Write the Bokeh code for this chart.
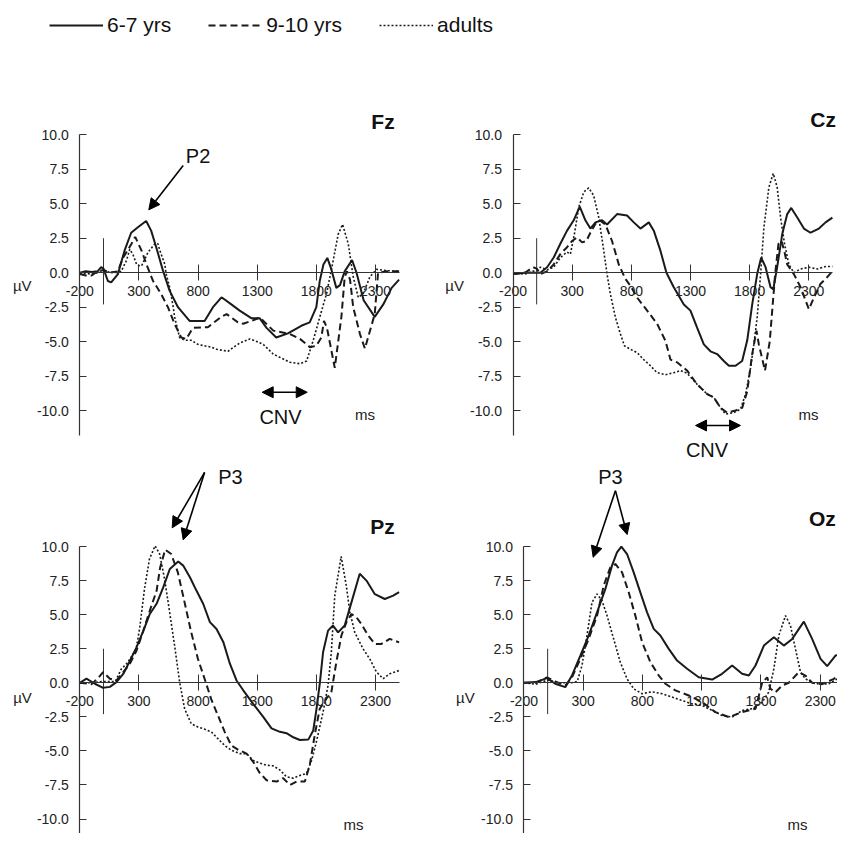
from bokeh.plotting import figure
from bokeh.models import (LinearAxis, FixedTicker, NumeralTickFormatter, Range1d,
                          Label, Arrow, NormalHead, Legend, LegendItem)
from bokeh.layouts import column, row
from bokeh.embed import file_html
from bokeh.resources import INLINE

FONT = "Liberation Sans"
INK = "#1a1a1a"

GROUPS = ["6-7 yrs", "9-10 yrs", "adults"]
X_TICKS = [-200, 300, 800, 1300, 1800, 2300]
Y_TICKS = [-10.0, -7.5, -5.0, -2.5, 0.0, 2.5, 5.0, 7.5, 10.0]
STIM_MARK = ([0], [2.5], [-2.3])   # stimulus onset marker (ms, top uV, bottom uV)

# ---------------- Fz ----------------
FZ_67_T = [-200, -150, -100, -50, -20, 0, 37, 65, 122, 178, 234, 291, 361, 403, 446, 503, 559, 630, 728, 855,
           926, 996, 1010, 1081, 1152, 1250, 1320, 1379, 1461, 1560, 1673, 1744, 1800, 1829, 1860, 1893, 1925,
           1969, 2000, 2040, 2102, 2140, 2200, 2294, 2366, 2437, 2500]
FZ_67_V = [0.0, 0.1, 0.05, 0.1, 0.4, 0.3, -0.6, -0.7, -0.1, 1.6, 2.9, 3.3, 3.75, 3.05, 1.85, 0.15, -1.3, -2.5, -3.5,
           -3.5, -2.5, -1.8, -1.85, -2.3, -2.75, -3.3, -3.3, -4.0, -4.7, -4.4, -3.85, -3.6, -2.5, -0.6, 0.6, 1.07,
           0.3, -1.1, -0.9, 0.1, 0.92, 0.0, -2.0, -3.2, -2.3, -1.1, -0.5]
FZ_910_T = [-200, -150, -100, -50, 0, 50, 120, 167, 237, 268, 322, 364, 418, 488, 545, 601, 657, 700, 756, 883,
            996, 1041, 1137, 1182, 1250, 1323, 1436, 1577, 1661, 1746, 1800, 1842, 1865, 1890, 1956, 2012, 2040,
            2060, 2085, 2112, 2169, 2211, 2294, 2322, 2400, 2500]
FZ_910_V = [-0.1, -0.2, -0.2, 0.1, 0.2, 0.0, 0.1, 1.1, 2.1, 2.6, 1.6, 0.6, -0.58, -1.55, -2.5, -3.7, -4.7, -4.8,
            -4.0, -3.95, -3.2, -3.0, -3.6, -3.7, -3.5, -3.25, -4.2, -4.45, -4.8, -5.4, -5.3, -4.7, -3.5, -4.0, -6.9,
            -3.2, -0.3, 0.1, -0.5, -2.5, -4.45, -5.5, -3.0, 0.0, 0.1, 0.1]
FZ_AD_T = [-200, -100, -50, 0, 100, 150, 195, 222, 250, 280, 305, 322, 378, 435, 460, 477, 519, 530, 561, 590, 601,
           644, 686, 742, 799, 911, 956, 1053, 1100, 1154, 1238, 1300, 1351, 1436, 1577, 1661, 1718, 1774, 1830,
           1887, 1943, 1985, 2022, 2070, 2112, 2155, 2197, 2253, 2310, 2394, 2500]
FZ_AD_V = [0.0, -0.1, 0.0, 0.1, 0.0, 0.1, 0.9, 1.7, 1.3, 0.6, 0.5, 0.5, 1.5, 2.1, 2.1, 1.6, 0.6, -0.1, -1.1, -2.5,
           -3.2, -4.7, -4.9, -4.9, -5.2, -5.4, -5.55, -5.7, -5.4, -5.1, -4.8, -5.0, -5.2, -5.9, -6.5, -6.6, -6.4,
           -4.9, -3.2, -1.5, 0.9, 2.8, 3.5, 2.1, -0.3, -1.8, -1.5, -0.3, 0.25, 0.15, 0.1]

# ---------------- Cz ----------------
CZ_67_T = [-200, -100, 0, 31, 88, 144, 200, 257, 313, 364, 412, 454, 497, 553, 595, 680, 764, 821, 877, 948, 990,
           1046, 1097, 1159, 1244, 1300, 1357, 1413, 1469, 1526, 1582, 1625, 1681, 1737, 1780, 1822, 1864, 1898,
           1935, 1977, 2000, 2033, 2076, 2118, 2152, 2203, 2259, 2315, 2386, 2442, 2500]
CZ_67_V = [-0.1, 0.0, 0.0, 0.0, 0.4, 1.1, 2.1, 3.05, 3.8, 4.8, 3.8, 3.2, 3.65, 3.8, 3.5, 4.25, 4.15, 3.65, 3.2,
           3.65, 3.05, 1.6, 0.0, -1.05, -2.3, -2.75, -4.0, -5.2, -5.7, -5.9, -6.4, -6.75, -6.75, -6.4, -4.9, -2.3,
           -0.1, 1.1, 0.4, -1.05, -1.2, 0.4, 2.8, 4.25, 4.7, 4.0, 3.2, 2.9, 3.2, 3.65, 4.0]
CZ_910_T = [-200, -100, -30, 0, 31, 88, 144, 200, 257, 299, 341, 384, 420, 454, 497, 533, 581, 637, 694, 750, 793,
            849, 934, 1018, 1089, 1131, 1187, 1272, 1357, 1441, 1498, 1554, 1610, 1681, 1737, 1780, 1822, 1858,
            1878, 1930, 1970, 2016, 2044, 2070, 2095, 2118, 2174, 2231, 2301, 2344, 2400, 2442, 2500]
CZ_910_V = [-0.1, 0.0, 0.4, 0.3, -0.1, 0.1, 0.6, 1.35, 1.85, 2.3, 2.55, 2.2, 2.3, 2.9, 3.55, 3.8, 3.5, 2.3, 0.6,
            -0.45, -0.95, -1.8, -2.75, -3.7, -4.95, -6.3, -6.5, -7.1, -8.1, -8.8, -9.05, -9.8, -10.15, -10.0, -9.8,
            -8.6, -5.9, -4.2, -5.2, -7.1, -5.0, -0.1, 2.1, 2.3, 1.5, 0.6, -0.1, -1.05, -2.65, -1.8, -0.8, -0.45,
            0.1]
CZ_AD_T = [-200, -100, 0, 31, 88, 144, 200, 257, 285, 319, 356, 398, 440, 482, 525, 567, 595, 623, 666, 708, 742,
           793, 849, 905, 962, 1018, 1089, 1159, 1216, 1272, 1357, 1441, 1498, 1554, 1596, 1667, 1723, 1766, 1808,
           1836, 1864, 1893, 1921, 1963, 2000, 2033, 2062, 2095, 2132, 2174, 2231, 2301, 2372, 2442, 2500]
CZ_AD_V = [0.0, -0.1, 0.2, 0.4, 0.2, 0.4, 1.1, 1.5, 1.35, 2.8, 4.75, 5.85, 6.15, 5.6, 4.0, 1.6, -0.1, -1.55,
           -3.25, -4.45, -5.3, -5.55, -5.8, -6.3, -6.75, -7.25, -7.4, -7.25, -7.1, -7.3, -8.1, -8.8, -9.05, -9.8,
           -10.25, -10.15, -9.9, -8.8, -6.9, -5.2, -3.25, -0.1, 3.3, 6.2, 7.2, 6.2, 4.0, 2.1, 0.6, 0.0, 0.27, 0.4,
           0.27, 0.45, 0.45]

# ---------------- Pz ----------------
PZ_67_T = [-200, -144, -73, -3, 54, 110, 167, 223, 279, 336, 392, 449, 505, 561, 632, 674, 731, 787, 843, 900, 956,
           1013, 1069, 1125, 1182, 1266, 1351, 1421, 1492, 1548, 1605, 1661, 1732, 1774, 1800, 1830, 1857, 1899,
           1941, 1984, 2040, 2097, 2167, 2224, 2295, 2379, 2450, 2500]
PZ_67_V = [0.0, 0.3, -0.07, -0.37, -0.3, 0.05, 0.65, 1.6, 2.6, 3.8, 5.05, 5.8, 7.0, 8.35, 8.9, 8.6, 7.75, 6.75,
           5.8, 4.45, 3.95, 3.0, 1.4, 0.17, -0.55, -1.55, -2.5, -3.35, -3.6, -3.7, -4.0, -4.2, -4.17, -3.5, -2.0,
           0.0, 2.24, 3.83, 4.2, 3.7, 4.2, 5.9, 8.0, 7.5, 6.5, 6.15, 6.4, 6.65]
PZ_910_T = [-200, -100, -30, -3, 54, 110, 167, 223, 279, 336, 392, 449, 480, 522, 573, 629, 686, 742, 799, 855,
            911, 968, 1025, 1081, 1137, 1210, 1266, 1320, 1379, 1464, 1520, 1577, 1633, 1703, 1744, 1786, 1829,
            1885, 1927, 1969, 2012, 2054, 2097, 2140, 2182, 2238, 2295, 2351, 2421, 2500]
PZ_910_V = [0.0, -0.1, 0.5, 0.78, 0.3, 0.17, 0.78, 1.4, 2.35, 3.8, 5.3, 6.75, 8.5, 9.77, 9.45, 8.1, 5.9, 3.7,
            1.75, 0.3, -1.2, -2.4, -3.6, -4.6, -4.9, -5.2, -5.8, -6.6, -7.15, -7.25, -7.0, -7.5, -7.25, -7.25,
            -6.06, -3.86, -1.9, -1.17, -0.68, 1.5, 3.47, 4.44, 5.05, 4.8, 4.3, 3.47, 2.85, 2.85, 3.22, 2.97]
PZ_AD_T = [-200, -100, 0, 100, 150, 206, 277, 305, 347, 389, 437, 475, 517, 559, 601, 644, 686, 742, 799, 855, 911,
           968, 1025, 1081, 1154, 1210, 1266, 1323, 1379, 1436, 1492, 1548, 1605, 1661, 1718, 1760, 1800, 1857,
           1899, 1927, 1956, 2010, 2054, 2083, 2125, 2195, 2252, 2308, 2365, 2421, 2500]
PZ_AD_V = [0.0, 0.0, 0.1, 0.1, 1.0, 1.5, 2.5, 3.95, 6.9, 9.1, 10.05, 9.45, 7.6, 5.2, 2.75, 0.05, -1.9, -3.0,
           -3.25, -3.4, -3.6, -4.1, -4.6, -4.95, -5.2, -5.2, -5.7, -5.9, -6.05, -6.1, -6.4, -6.9, -7.0, -6.8, -6.65,
           -5.7, -4.35, -2.15, -0.2, 2.24, 6.4, 9.27, 7.1, 5.2, 3.7, 2.5, 1.75, 0.8, 0.3, 0.66, 0.9]

# ---------------- Oz ----------------
OZ_67_T = [-200, -100, -6, 64, 149, 205, 276, 346, 417, 487, 543, 585, 622, 670, 726, 782, 839, 895, 951, 1022,
           1092, 1177, 1275, 1388, 1472, 1557, 1641, 1698, 1754, 1825, 1909, 1993, 2064, 2162, 2232, 2303, 2359,
           2429, 2500]
OZ_67_V = [0.0, 0.05, 0.34, -0.07, -0.32, 0.53, 2.0, 3.47, 5.17, 6.89, 8.6, 9.57, 9.99, 9.45, 8.1, 6.64, 5.17,
           3.96, 3.47, 2.49, 1.63, 1.03, 0.41, 0.24, 0.66, 1.27, 0.66, 0.53, 1.27, 2.73, 3.34, 2.73, 3.22, 4.49,
           3.22, 1.76, 1.22, 2.0, 2.12]
OZ_910_T = [-200, -100, -6, 64, 149, 205, 276, 346, 417, 473, 529, 571, 628, 684, 740, 797, 867, 938, 994, 1078,
            1191, 1303, 1416, 1529, 1641, 1754, 1810, 1853, 1880, 1922, 1979, 2035, 2120, 2176, 2232, 2317, 2416,
            2500]
OZ_910_V = [0.0, 0.0, 0.4, 0.1, -0.2, 0.4, 1.76, 3.22, 4.93, 7.13, 8.47, 8.72, 8.1, 6.64, 4.93, 2.98, 1.51, 0.53,
            -0.07, -0.56, -0.93, -1.42, -2.15, -2.52, -2.15, -1.9, 0.0, 0.4, -0.44, -0.7, -0.2, 0.0, 0.78, 0.53,
            0.0, -0.1, 0.29, 0.9]
OZ_AD_T = [-200, -100, 0, 100, 200, 250, 290, 332, 374, 417, 459, 501, 557, 613, 670, 726, 797, 881, 966, 1050,
           1134, 1219, 1303, 1388, 1472, 1557, 1641, 1726, 1810, 1866, 1909, 1951, 2007, 2049, 2091, 2134, 2176,
           2232, 2303, 2373, 2444, 2500]
OZ_AD_V = [0.0, -0.1, 0.2, 0.0, 0.0, 0.1, 1.27, 3.47, 5.9, 6.52, 6.03, 4.93, 3.22, 1.51, 0.29, -0.44, -0.8,
           -0.66, -0.8, -1.05, -1.3, -1.55, -1.66, -2.03, -2.4, -2.52, -2.03, -1.9, -1.42, -0.68, 1.03, 3.47, 4.93,
           4.2, 2.49, 0.78, 0.29, 0.0, -0.1, -0.07, 0.29, 0.7]

STYLES = [dict(line_width=2.0, line_dash="solid"),
          dict(line_width=2.0, line_dash="7 4"),
          dict(line_width=1.6, line_dash="2 2")]


def make_panel(name, series, width, height, xr, yr, ybottom, name_pos, name_align, ms_pos, uv_pos,
               arrows, texts):
    p = figure(width=width, height=height, x_range=Range1d(*xr), y_range=Range1d(*yr),
               x_axis_type=None, y_axis_type=None, toolbar_location=None, output_backend="svg",
               min_border=0)
    p.outline_line_color = None
    p.background_fill_color = "white"

    xa = LinearAxis(fixed_location=0, bounds=(-200, 2500), ticker=FixedTicker(ticks=X_TICKS),
                    formatter=NumeralTickFormatter(format="0"))
    xa.axis_line_color = "#333333"
    xa.axis_line_width = 1.2
    xa.major_tick_line_color = "#333333"
    xa.major_tick_in = 8
    xa.major_tick_out = 8
    xa.minor_tick_line_color = None
    xa.major_label_standoff = 5
    xa.major_label_text_font = FONT
    xa.major_label_text_font_size = "14px"
    xa.major_label_text_color = "#222222"
    p.add_layout(xa, "below")

    ya = LinearAxis(fixed_location=-200, bounds=(ybottom, 10), ticker=FixedTicker(ticks=Y_TICKS),
                    formatter=NumeralTickFormatter(format="0.0"))
    ya.axis_line_color = "#333333"
    ya.axis_line_width = 1.2
    ya.major_tick_line_color = "#333333"
    ya.major_tick_in = 7
    ya.major_tick_out = 0
    ya.minor_tick_line_color = None
    ya.major_label_standoff = 11
    ya.major_label_text_font = FONT
    ya.major_label_text_font_size = "14px"
    ya.major_label_text_color = "#222222"
    p.add_layout(ya, "left")

    p.segment(x0=STIM_MARK[0], y0=STIM_MARK[1], x1=STIM_MARK[0], y1=STIM_MARK[2],
              line_color="#333333", line_width=1)

    for (t, v), st in zip(series, STYLES):
        p.line(t, v, line_color=INK, **st)

    p.add_layout(Label(x=name_pos[0], y=name_pos[1], text=name, text_font=FONT, text_font_style="bold",
                       text_font_size="21px", text_align=name_align, text_baseline="middle", text_color="#111"))
    p.add_layout(Label(x=ms_pos[0], y=ms_pos[1], text="ms", text_font=FONT, text_font_size="15px",
                       text_align="center", text_baseline="middle", text_color="#222"))
    p.add_layout(Label(x=uv_pos[0], y=uv_pos[1], text="\u00b5V", text_font=FONT, text_font_size="15px",
                       text_align="center", text_baseline="middle", text_color="#222"))
    for (x0, y0, x1, y1, both) in arrows:
        p.add_layout(Arrow(x_start=x0, y_start=y0, x_end=x1, y_end=y1, line_width=1.6, line_color="black",
                           end=NormalHead(size=11, fill_color="black", line_color="black"),
                           start=NormalHead(size=11, fill_color="black", line_color="black") if both else None))
    for (tx, ty, txt) in texts:
        p.add_layout(Label(x=tx, y=ty, text=txt, text_font=FONT, text_font_size="20px",
                           text_align="center", text_baseline="middle", text_color="#111"))
    return p


fz = make_panel("Fz", [(FZ_67_T, FZ_67_V), (FZ_910_T, FZ_910_V), (FZ_AD_T, FZ_AD_V)],
                420, 364, (-871, 2681), (-13.91, 12.49), -11.84,
                (2364, 11.0), "center", (2212, -10.3), (-687, -0.95),
                [(674, 7.77, 383, 4.56, False), (1342, -8.67, 1723, -8.67, True)],
                [(800, 8.46, "P2"), (1497, -10.46, "CNV")])
cz = make_panel("Cz", [(CZ_67_T, CZ_67_V), (CZ_910_T, CZ_910_V), (CZ_AD_T, CZ_AD_V)],
                417, 364, (-982, 2543), (-13.91, 12.49), -11.84,
                (2530, 11.1), "right", (2298, -10.3), (-694, -0.95),
                [(1343, -11.08, 1723, -11.08, True)],
                [(1440, -12.86, "CNV")])
pz = make_panel("Pz", [(PZ_67_T, PZ_67_V), (PZ_910_T, PZ_910_V), (PZ_AD_T, PZ_AD_V)],
                420, 369, (-871, 2681), (-11.06, 16.02), -12.5,
                (2360, 11.5), "center", (2115, -10.4), (-685, -1.1),
                [(855, 15.44, 581, 11.37, False), (855, 15.44, 674, 10.49, False)],
                [(1074, 15.13, "P3")])
oz = make_panel("Oz", [(OZ_67_T, OZ_67_V), (OZ_910_T, OZ_910_V), (OZ_AD_T, OZ_AD_V)],
                417, 369, (-1073, 2446), (-11.06, 16.02), -12.5,
                (2432, 12.05), "right", (2108, -10.4), (-694, -1.1),
                [(572, 14.1, 384, 9.21, False), (572, 14.1, 671, 10.88, False)],
                [(530, 15.1, "P3")])

# ---------------- legend strip ----------------
lg = figure(width=837, height=100, x_range=Range1d(0, 1), y_range=Range1d(0, 1), x_axis_type=None,
            y_axis_type=None, toolbar_location=None, output_backend="svg", min_border=0)
lg.outline_line_color = None
items = []
for g, st in zip(GROUPS, STYLES):
    # legend-only renderer, kept outside the visible range
    r = lg.line(x=[5, 6], y=[5, 6], line_color=INK, **st)
    items.append(LegendItem(label=g, renderers=[r]))
legend = Legend(items=items, orientation="horizontal", location=(49, 63), margin=0, padding=0,
                glyph_width=54, glyph_height=20, label_height=20, label_standoff=4, spacing=37,
                label_text_font=FONT, label_text_font_size="21px", label_text_color="#111",
                border_line_color=None, background_fill_alpha=0)
lg.add_layout(legend, "center")

layout = column(lg, row(fz, cz, spacing=0), row(pz, oz, spacing=0), spacing=0)

with open("out.html", "w") as f:
    f.write(file_html(layout, INLINE))
